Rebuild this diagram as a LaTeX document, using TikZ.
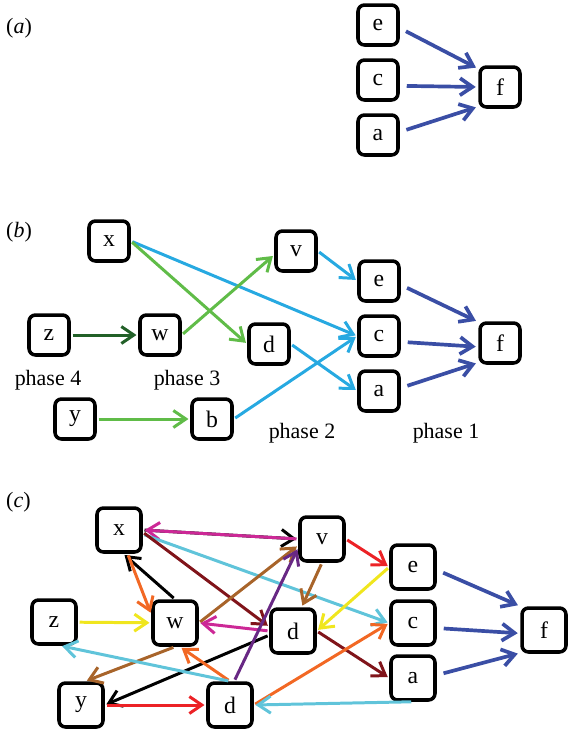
\documentclass[tikz,border=0pt]{standalone}
\usepackage{fontspec}
\setmainfont{Liberation Serif}
\usetikzlibrary{arrows.meta}

\definecolor{navy}{RGB}{58,78,165}
\definecolor{lightblue}{RGB}{39,169,225}
\definecolor{grass}{RGB}{96,188,72}
\definecolor{darkgrass}{RGB}{34,96,40}
\definecolor{skyblue}{RGB}{96,196,218}
\definecolor{magenta}{RGB}{204,40,150}
\definecolor{maroon}{RGB}{128,20,26}
\definecolor{tangerine}{RGB}{242,104,36}
\definecolor{lemon}{RGB}{240,230,30}
\definecolor{umber}{RGB}{168,100,42}
\definecolor{scarlet}{RGB}{236,34,38}
\definecolor{grape}{RGB}{104,40,132}

\begin{document}
\begin{tikzpicture}[x=0.02cm, y=-0.02cm,
    box/.style={draw, line width=2pt, rounded corners=0.13cm, minimum size=0.8cm, inner sep=0pt, font=\fontsize{13.5}{16}\selectfont},
    bigbox/.style={box, minimum size=0.88cm},
    lbl/.style={font=\fontsize{12.5}{15}\selectfont},
    link/.style={line width=1.7pt, -{Straight Barb[length=2.5mm, width=3.4mm]}, shorten <=1pt, shorten >=1pt},
    tail/.style={link, line width=2.1pt, shorten <=0.14cm, shorten >=0.05cm}]
    \useasboundingbox (0, 0) rectangle (570, 731);

    \node [lbl, anchor=west] (labA) at (0, 28) {(\textit{a})};
    \node [box] (eA) at (378, 25) {e};
    \node [box] (cA) at (378, 80) {c};
    \node [box] (aA) at (378, 135) {a};
    \node [box] (fA) at (500, 87) {f};
    \draw [tail, navy] (eA.-8) -- (fA.140);
    \draw [tail, navy] (cA.-15) -- (fA.west);
    \draw [tail, navy] (aA.8) -- (fA.222);

    \node [lbl, anchor=west] (labB) at (0, 232) {(\textit{b})};
    \node [box] (xB) at (109, 241) {x};
    \node [box] (vB) at (296, 251) {v};
    \node [box] (eB) at (379, 281) {e};
    \node [box] (cB) at (379, 336) {c};
    \node [box] (aB) at (379, 391) {a};
    \node [box] (fB) at (500, 343) {f};
    \node [box] (zB) at (49, 335) {z};
    \node [box] (wB) at (160, 335) {w};
    \node [box] (dB) at (269, 344) {d};
    \node [box] (yB) at (75, 419) {y};
    \node [box] (bB) at (212, 419) {b};
    \node [lbl] (ph4) at (48, 380) {phase 4};
    \node [lbl] (ph3) at (187, 380) {phase 3};
    \node [lbl] (ph2) at (302, 433) {phase 2};
    \node [lbl] (ph1) at (446, 433) {phase 1};
    \draw [link, lightblue] (xB.east) -- (cB.west);
    \draw [link, grass] (xB.east) -- (dB.west);
    \draw [link, grass] (wB.east) -- (vB.190);
    \draw [link, darkgrass] (zB) -- (wB);
    \draw [link, lightblue] (vB.east) -- (eB.west);
    \draw [link, lightblue] (dB.east) -- (aB.west);
    \draw [link, grass] (yB) -- (bB);
    \draw [link, lightblue] (bB.east) -- (cB.west);
    \draw [tail, navy] (eB.-10) -- (fB.136);
    \draw [tail, navy] (cB.-15) -- (fB.190);
    \draw [tail, navy] (aB.8) -- (fB.222);

    \node [lbl, anchor=west] (labC) at (0, 502) {(\textit{c})};
    \node [bigbox] (xC) at (119, 530) {x};
    \node [bigbox] (vC) at (322, 539) {v};
    \node [bigbox] (eC) at (413, 567) {e};
    \node [bigbox] (cC) at (413, 623) {c};
    \node [bigbox] (aC) at (413, 678) {a};
    \node [bigbox] (fC) at (544, 630) {f};
    \node [bigbox] (zC) at (54, 622) {z};
    \node [bigbox] (wC) at (175, 623) {w};
    \node [bigbox] (dC) at (293, 631) {d};
    \node [bigbox] (yC) at (81, 705) {y};
    \node [bigbox] (ddC) at (230, 705) {d};
    \draw [link] (xC.east) -- (vC.west);
    \draw [link, magenta] (vC.west) -- (xC.east);
    \draw [link, skyblue] (xC.-10) -- (cC.west);
    \draw [link, maroon] (xC.-5) -- (dC.170);
    \draw [link] (wC.north) -- (xC.280);
    \draw [link, tangerine] (xC.290) -- (wC.160);
    \draw [link, lemon] (zC) -- (wC);
    \draw [link, umber] (wC.east) -- (vC.195);
    \draw [link, magenta] (dC.west) -- (wC.east);
    \draw [link, umber] (vC.south) -- (dC.70);
    \draw [link, scarlet] (vC.east) -- (eC.west);
    \draw [link, lemon] (eC.west) -- (dC.east);
    \draw [link, maroon] (dC.east) -- (aC.west);
    \draw [link] (dC.190) -- (yC.east);
    \draw [link, umber] (wC.south) -- (yC.80);
    \draw [link, scarlet] (yC) -- (ddC);
    \draw [link, tangerine] (ddC.north) -- (wC.282);
    \draw [link, skyblue] (ddC.north) -- (zC.285);
    \draw [link, grape] (ddC.80) -- (vC.200);
    \draw [link, tangerine] (ddC.east) -- (cC.west);
    \draw [link, skyblue] (aC.south) -- (ddC.east);
    \draw [tail, navy] (eC.-7) -- (fC.135);
    \draw [tail, navy] (cC.-12) -- (fC.188);
    \draw [tail, navy] (aC.7) -- (fC.224);
\end{tikzpicture}
\end{document}
